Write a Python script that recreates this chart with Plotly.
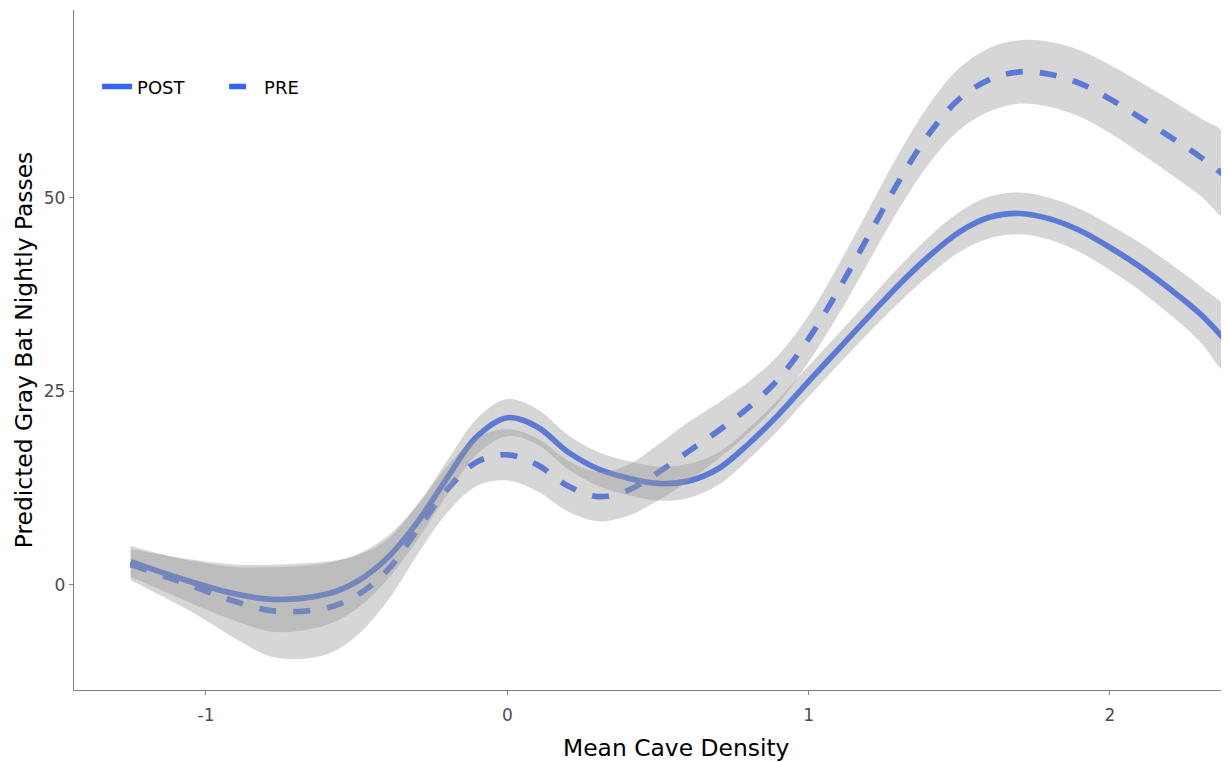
import plotly.graph_objects as go

x_vals = [-1.25, -1.1, -1.0, -0.9, -0.77, -0.6, -0.5, -0.4, -0.3, -0.2, -0.1, 0.0,
          0.1, 0.2, 0.3, 0.4, 0.5, 0.6, 0.7, 0.8, 0.9, 1.0, 1.1, 1.2, 1.3, 1.4, 1.5,
          1.6, 1.7, 1.8, 1.9, 2.0, 2.1, 2.2, 2.3, 2.39]

post_fit = [3.0, 1.0, -0.2, -1.2, -1.9, -1.2, 0.4, 3.4, 8.0, 13.8, 19.2, 21.6,
            20.4, 17.2, 15.0, 13.8, 13.1, 13.4, 15.0, 18.2, 22.0, 26.3, 30.5, 34.7,
            38.8, 42.5, 45.6, 47.5, 48.0, 47.3, 45.8, 43.6, 41.1, 38.2, 35.0, 31.3]
post_se = [2.0, 2.5, 3.0, 3.5, 4.2, 4.0, 3.5, 2.8, 2.3, 2.2, 2.3, 2.4,
           2.3, 2.2, 2.2, 2.2, 2.2, 2.2, 2.1, 2.0, 2.0, 2.0, 2.0, 2.1,
           2.3, 2.5, 2.6, 2.7, 2.7, 2.7, 2.8, 2.9, 3.1, 3.3, 3.6, 4.0]

pre_fit = [2.6, 0.6, -0.8, -2.2, -3.4, -3.0, -1.4, 1.8, 7.0, 12.3, 15.9, 16.8,
           15.5, 12.8, 11.4, 12.2, 14.5, 17.2, 19.9, 22.9, 26.6, 31.8, 38.2, 45.2,
           52.2, 58.3, 62.8, 65.3, 66.3, 66.0, 64.8, 62.8, 60.4, 57.9, 55.3, 52.6]
pre_se = [2.0, 3.0, 3.8, 4.8, 6.0, 6.0, 5.2, 4.0, 3.2, 3.0, 3.1, 3.3,
          3.4, 3.3, 3.2, 3.3, 3.6, 3.8, 3.6, 3.3, 3.1, 3.0, 3.2, 3.4,
          3.6, 3.8, 4.0, 4.1, 4.1, 4.2, 4.3, 4.4, 4.6, 4.8, 5.0, 5.3]

x_ticks = [-1, 0, 1, 2]
y_ticks = [0, 25, 50]
x_title = "Mean Cave Density"
y_title = "Predicted Gray Bat Nightly Passes"

LINE_COLOR = "#3366FF"
RIBBON_COLOR = "rgba(153,153,153,0.4)"
FONT = "DejaVu Sans"

fig = go.Figure()

fig.add_trace(go.Scatter(x=x_vals, y=post_fit, mode="lines", name="POST",
                         line=dict(color=LINE_COLOR, width=5.67, shape="spline", dash="solid"),
                         hoverinfo="skip"))
fig.add_trace(go.Scatter(x=x_vals, y=pre_fit, mode="lines", name="PRE",
                         line=dict(color=LINE_COLOR, width=5.67, shape="spline", dash="dash"),
                         hoverinfo="skip"))

for fit, se in [(post_fit, post_se), (pre_fit, pre_se)]:
    upper = [f + s for f, s in zip(fit, se)]
    lower = [f - s for f, s in zip(fit, se)]
    fig.add_trace(go.Scatter(x=x_vals + x_vals[::-1], y=upper + lower[::-1],
                             mode="lines", fill="toself", fillcolor=RIBBON_COLOR,
                             line=dict(width=0, color="rgba(0,0,0,0)", shape="spline"),
                             showlegend=False, hoverinfo="skip"))

axis_common = dict(showgrid=False, zeroline=False, showline=True, linecolor="#7F7F7F",
                   linewidth=1.3, ticks="outside", ticklen=4, tickcolor="#7F7F7F",
                   tickwidth=1, tickfont=dict(family=FONT, size=17, color="#4D4D4D"))

fig.update_layout(
    width=1221, height=754,
    margin=dict(l=66, r=0, t=2, b=72, autoexpand=False),
    paper_bgcolor="white", plot_bgcolor="white",
    font=dict(family=FONT, color="black"),
    xaxis=dict(range=[-1.438, 2.395], tickvals=x_ticks, ticktext=[str(v) for v in x_ticks],
               ticklabelstandoff=5, **axis_common),
    yaxis=dict(range=[-13.6, 74.3], tickvals=y_ticks, ticktext=[str(v) for v in y_ticks],
               title=dict(text=y_title, standoff=4,
                          font=dict(family=FONT, size=23.4, color="black")),
               **axis_common),
    legend=dict(orientation="h", x=0.02, xanchor="left", y=0.887, yanchor="middle",
                entrywidth=82,
                font=dict(family=FONT, size=18, color="black"), bgcolor="rgba(0,0,0,0)"),
    showlegend=True,
    annotations=[dict(text=x_title, xref="paper", yref="paper", x=0.522, y=-0.086,
                      xanchor="center", yanchor="middle", showarrow=False,
                      font=dict(family=FONT, size=23.4, color="black"))],
)

fig.write_html("out.html")
